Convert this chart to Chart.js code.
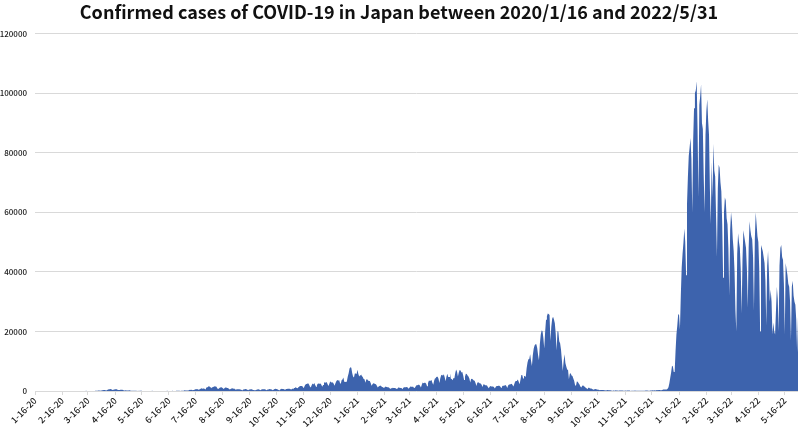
<!DOCTYPE html>
<html>
<head>
<meta charset="utf-8">
<script src="https://cdn.jsdelivr.net/npm/chart.js@4/dist/chart.umd.min.js"></script>
<style>
  html, body { margin: 0; padding: 0; background: #fff; }
  #wrap { width: 800px; height: 429px; }
</style>
</head>
<body>
<div id="wrap"><canvas id="covidChart"></canvas></div>
<script>
// daily confirmed cases, one array per year (2020/1/16 .. 2022/5/31)
const cases2020 = [
  1,0,0,0,0,0,0,1,1,0,1,0,1,3,2,4,
  3,2,0,3,1,0,4,0,1,1,0,0,4,1,2,2,6,1,8,3,11,7,1,5,14,13,21,24,12,
  13,18,12,25,34,54,30,33,21,59,54,56,48,64,21,32,41,33,40,54,55,38,39,65,73,98,110,200,173,87,218,
  266,243,351,368,251,145,351,516,576,644,714,507,391,457,549,586,576,568,373,369,378,450,436,440,346,201,178,259,216,192,
  160,286,203,125,122,99,91,82,113,64,52,75,56,99,100,66,23,31,33,37,38,36,33,15,21,36,39,63,45,47,35,
  37,41,41,49,47,50,38,17,40,41,41,47,55,71,36,44,42,42,58,66,58,58,38,82,90,90,100,111,59,127,
  127,124,194,275,224,167,200,205,355,430,385,408,262,332,450,623,594,664,511,421,631,795,981,768,839,838,598,981,1264,1301,1580,
  1536,1331,959,1243,1356,1485,1595,1565,1441,827,700,966,1177,1360,1230,1011,674,942,1170,1199,1035,1045,737,508,700,899,902,801,816,600,454,
  598,573,616,621,552,437,297,481,525,647,661,587,449,269,513,498,568,592,436,357,278,312,343,561,651,557,453,306,519,632,
  644,614,588,438,286,508,558,684,622,600,420,270,559,713,752,673,639,425,273,491,620,736,706,661,514,478,724,727,801,750,775,
  613,490,842,613,1017,1140,1305,1052,950,1282,1548,1659,1704,1735,1427,948,1698,2201,2386,2427,2596,2168,1520,1228,1945,2509,2225,2684,2060,1438,
  2031,2433,2518,2426,2508,2091,1451,2002,2811,2970,2788,3041,2393,1695,2402,3211,3034,2822,2980,2494,1807,2646,3271,3740,3543,3881,2912,2395,3599,3852,4520
];
const cases2021 = [
  3160,3059,3158,3325,4915,6004,7570,7957,7790,6094,4876,4535,5875,5870,5762,7133,5759,4925,5320,5654,5045,4717,4059,3990,2764,3853,3961,3538,3345,3345,2673,
  1792,2324,2631,2576,2366,2283,1780,1230,1569,1698,1881,1582,1353,1248,1015,1309,1529,1400,1308,1237,1100,740,1083,845,1073,1063,990,994,
  669,818,1245,1146,1149,1063,1063,600,1125,1318,1288,1314,1320,1153,736,1096,1496,1467,1462,1508,1116,1012,1516,1909,1912,2080,2088,1785,1219,2081,2843,
  2593,2761,2762,2471,1573,2659,3451,3446,3456,3697,2779,2088,3452,4304,4532,4799,4802,4089,2718,4322,5292,5501,5117,5605,4604,3315,4843,5787,4687,4681,
  5956,4108,4065,3630,4342,4320,6061,7244,6457,4906,6242,7057,6873,6265,6403,5254,3678,4812,5801,5747,5224,4918,4246,2906,4020,4131,3914,3561,3495,2721,1712,
  2764,2980,2800,2563,2563,2002,1398,2254,2167,1950,1951,1887,1392,921,1451,1734,1563,1541,1519,1296,876,1451,1721,1674,1755,1772,1569,1139,1536,1767,
  1769,1892,2020,1672,1050,1893,2189,2262,2254,2486,2034,1534,2403,3193,3416,3418,3882,3103,2325,3758,5395,5397,4225,4943,5020,4692,7629,9576,10699,10743,12342,
  10170,8394,12018,14207,15263,15753,15753,14472,12097,10363,15812,18889,20365,20151,17813,14263,19853,23917,25148,25995,25876,25492,16841,21570,24300,24969,24052,22748,19297,13637,20052,
  20032,16752,16074,13977,10392,6730,9977,12396,9438,8215,7227,7084,3992,5796,5985,5197,5071,4174,3379,1926,1766,3243,3103,2589,2166,1495,1200,1715,1982,1575,
  1443,1124,976,619,1128,1129,817,1039,707,588,437,599,657,623,511,479,429,234,372,391,350,342,273,259,154,274,350,279,260,238,172,
  86,224,212,134,231,218,162,107,172,187,199,186,173,140,81,151,127,162,157,154,145,50,77,132,99,118,154,120,84,88,
  122,131,107,137,106,98,126,144,176,154,161,134,106,183,197,211,241,213,242,210,268,395,303,363,395,283,288,383,496,487,545
];
const cases2022 = [
  533,552,782,1265,2638,4475,6214,8480,8249,6438,6377,13244,18860,22045,25742,25630,20679,32197,41485,46199,49854,54576,50139,38900,62613,71633,78930,81825,84933,78071,59891,
  84000,94900,100000,101000,104000,88000,65000,96000,99000,103000,90000,88000,72000,60000,86000,94000,98000,91000,86000,68000,56000,77000,65000,83000,74000,72000,59000,45000,
  68000,76000,75000,70000,67000,56000,38000,60000,65000,64000,58000,56000,48000,32000,54000,60000,57000,51000,47000,40000,27000,20000,46000,53000,50000,48000,41000,26000,44000,54000,52000,
  50000,48000,41000,28000,48000,57000,54000,52000,51000,45000,27000,51000,60000,56000,52000,50000,41000,20000,49000,48000,47000,45000,43000,37000,22000,42000,47000,40000,30000,34000,
  30000,19000,23000,20000,19000,19000,35000,31000,20000,42000,48000,49000,45000,44000,36000,19000,43000,41000,39000,36000,35000,30000,17000,35000,37000,32000,30000,29000,24000,13000,25000
];

const tickLabels = [
  '1-16-20','2-16-20','3-16-20','4-16-20','5-16-20','6-16-20','7-16-20','8-16-20','9-16-20','10-16-20','11-16-20','12-16-20',
  '1-16-21','2-16-21','3-16-21','4-16-21','5-16-21','6-16-21','7-16-21','8-16-21','9-16-21','10-16-21','11-16-21','12-16-21',
  '1-16-22','2-16-22','3-16-22','4-16-22','5-16-22'
];
const yTicks = [0, 20000, 40000, 60000, 80000, 100000, 120000];

const cases = cases2020.concat(cases2021, cases2022);

// one category per day, written like the tick labels (m-d-yy)
const days = [];
for (let i = 0; i < cases.length; i++) {
  const d = new Date(Date.UTC(2020, 0, 16 + i));
  days.push((d.getUTCMonth() + 1) + '-' + d.getUTCDate() + '-' + String(d.getUTCFullYear()).slice(2));
}

const FONT = "'Noto Sans CJK JP', 'Noto Sans', sans-serif";

new Chart(document.getElementById('covidChart'), {
  type: 'line',
  data: {
    labels: days,
    datasets: [{
      label: 'Confirmed cases',
      data: cases,
      fill: 'origin',
      backgroundColor: '#3d63ad',
      borderColor: '#3d63ad',
      borderWidth: 0,
      pointRadius: 0,
      tension: 0
    }]
  },
  options: {
    responsive: true,
    maintainAspectRatio: false,
    animation: false,
    layout: { padding: { left: 0, right: 2, top: 0, bottom: 0 } },
    plugins: {
      legend: { display: false },
      tooltip: { enabled: false },
      title: {
        display: true,
        text: 'Confirmed cases of COVID-19 in Japan between 2020/1/16 and 2022/5/31',
        color: '#111',
        font: { family: FONT, size: 18, weight: 'bold' },
        padding: { top: 1, bottom: 11 }
      }
    },
    scales: {
      x: {
        grid: { display: true, drawOnChartArea: false, color: '#d9d9d9', tickLength: 4 },
        border: { display: false },
        ticks: {
          autoSkip: false,
          minRotation: 45,
          maxRotation: 45,
          padding: 0,
          color: '#1a1a1a',
          font: { family: FONT, size: 9, weight: '500' },
          callback: function (value) {
            const lab = this.getLabelForValue(value);
            return tickLabels.includes(lab) ? lab : null;
          }
        }
      },
      y: {
        min: 0,
        max: 120000,
        afterBuildTicks: (axis) => { axis.ticks = yTicks.map(v => ({ value: v })); },
        afterFit: (axis) => { axis.width = 35; },
        grid: { color: '#d9d9d9', drawTicks: false },
        border: { display: false },
        ticks: {
          padding: 8,
          color: '#1a1a1a',
          font: { family: FONT, size: 8, weight: '500' },
          callback: (value) => String(value)
        }
      }
    }
  }
});
</script>
</body>
</html>
